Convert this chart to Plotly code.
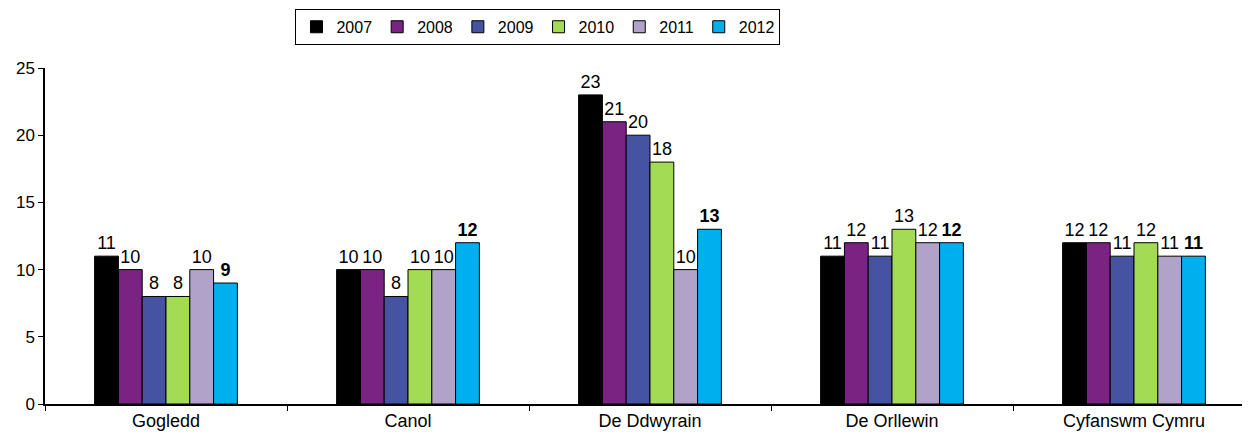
import plotly.graph_objects as go

categories = ["Gogledd", "Canol", "De Ddwyrain", "De Orllewin", "Cyfanswm Cymru"]
years = ["2007", "2008", "2009", "2010", "2011", "2012"]
values = {
    "2007": [11, 10, 23, 11, 12],
    "2008": [10, 10, 21, 12, 12],
    "2009": [8, 8, 20, 11, 11],
    "2010": [8, 10, 18, 13, 12],
    "2011": [10, 10, 10, 12, 11],
    "2012": [9, 12, 13, 12, 11],
}
colors = {
    "2007": "#000000",
    "2008": "#7B2382",
    "2009": "#4653A3",
    "2010": "#A4DB55",
    "2011": "#B1A2C9",
    "2012": "#00B0EE",
}

FONT = "Liberation Sans, Arial"

fig = go.Figure()
for y in years:
    tmpl = "<b>%{y}</b>" if y == "2012" else "%{y}"
    fig.add_trace(go.Bar(
        name=y, x=categories, y=values[y],
        marker=dict(color=colors[y], line=dict(color="#000000", width=1)),
        texttemplate=tmpl, textposition="outside", cliponaxis=False,
        textfont=dict(color="#000000", size=18, family=FONT),
    ))

fig.update_layout(
    barmode="group", bargap=0.41, bargroupgap=0,
    width=1250, height=441,
    margin=dict(l=37, r=3, t=60, b=45, autoexpand=False),
    paper_bgcolor="white", plot_bgcolor="white",
    font=dict(family=FONT, size=17, color="#000000"),
    showlegend=True,
    legend=dict(orientation="h", x=0.207, y=1.176, xanchor="left", yanchor="top",
                bordercolor="#000000", borderwidth=1, font=dict(size=16),
                itemwidth=30, tracegroupgap=0, traceorder="normal"),
    xaxis=dict(showline=True, linecolor="#000000", linewidth=1.5,
               ticks="outside", tickson="boundaries", ticklen=5, tickcolor="#000000",
               showgrid=False, tickfont=dict(size=18)),
    yaxis=dict(range=[0, 25], dtick=5, showline=True, linecolor="#000000", linewidth=1.5,
               ticks="outside", ticklen=5, tickcolor="#000000", showgrid=False,
               zeroline=False, tickfont=dict(size=17)),
)

fig.write_html("out.html")
